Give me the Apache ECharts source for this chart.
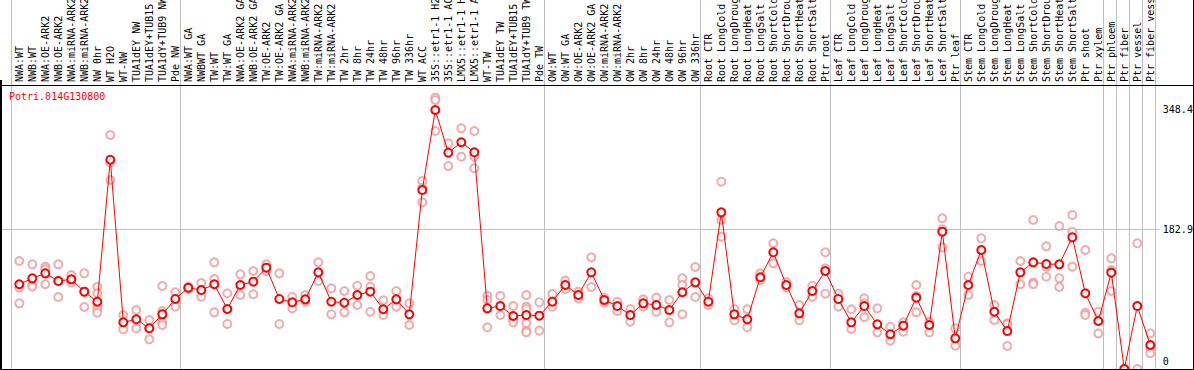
<!DOCTYPE html>
<html>
<head>
<meta charset="utf-8">
<script src="https://cdn.jsdelivr.net/npm/echarts@6/dist/echarts.min.js"></script>
<style>
html,body{margin:0;padding:0;background:#fff;}
#chart{width:1194px;height:370px;}
</style>
</head>
<body>
<div id="chart"></div>
<script>
const geneName = 'Potri.014G130800';

const categories = [
  'NWA:WT','NWB:WT','NWA:OE-ARK2','NWB:OE-ARK2','NWA:miRNA-ARK2','NWB:miRNA-ARK2','NW 0hr','WT H2O','WT-NW',
  'TUA1dEY NW','TUA1dEY+TUB15 NW','TUA1dY+TUB9 NW','Pde NW',
  'NWA:WT GA','NWBWT GA','TW:WT','TW:WT GA','NWA:OE-ARK2 GA','NWB:OE-ARK2 GA','TW:OE-ARK2','TW:OE-ARK2 GA',
  'NWA:miRNA-ARK2 GA','NWB:miRNA-ARK2 GA','TW:miRNA-ARK2','TW:miRNA-ARK2 GA',
  'TW 2hr','TW 8hr','TW 24hr','TW 48hr','TW 96hr','TW 336hr','WT ACC',
  '35S::etr1-1 H2O','35S::etr1-1 ACC','LMX5::etr1-1 H2O','LMX5::etr1-1 ACC',
  'WT-TW','TUA1dEY TW','TUA1dEY+TUB15 TW','TUA1dY+TUB9 TW','Pde TW',
  'OW:WT','OW:WT GA','OW:OE-ARK2','OW:OE-ARK2 GA','OW:miRNA-ARK2','OW:miRNA-ARK2 GA',
  'OW 2hr','OW 8hr','OW 24hr','OW 48hr','OW 96hr','OW 336hr',
  'Root CTR','Root LongCold','Root LongDrought','Root LongHeat','Root LongSalt',
  'Root ShortCold','Root ShortDrought','Root ShortHeat','Root ShortSalt','Ptr root',
  'Leaf CTR','Leaf LongCold','Leaf LongDrought','Leaf LongHeat','Leaf LongSalt',
  'Leaf ShortCold','Leaf ShortDrought','Leaf ShortHeat','Leaf ShortSalt','Ptr leaf',
  'Stem CTR','Stem LongCold','Stem LongDrought','Stem LongHeat','Stem LongSalt',
  'Stem ShortCold','Stem ShortDrought','Stem ShortHeat','Stem ShortSalt','Ptr shoot','Ptr xylem',
  'Ptr phloem','Ptr fiber','Ptr vessel','Ptr fiber vessel'
];

const meanValues = [
  106.5,114.8,121.7,111.0,113.4,96.2,82.3,279.4,53.7,57.9,45.4,64.8,86.1,
  101.7,98.5,106.5,72.2,105.5,110.1,129.5,86.1,81.5,85.6,123.1,82.3,80.9,91.6,96.2,71.8,85.6,64.8,237.3,
  348.4,289.1,303.6,289.7,73.1,76.3,62.5,63.8,62.9,
  82.3,105.5,91.6,123.1,84.7,76.3,63.8,80.1,77.7,70.8,95.4,109.2,
  82.3,206.4,64.8,57.9,116.2,150.9,105.5,66.2,97.2,124.9,
  86.1,53.7,76.3,50.9,37.1,49.0,87.9,50.0,179.5,31.5,
  105.5,154.1,68.4,41.6,123.1,137.0,134.6,134.2,171.7,94.0,55.5,
  122.6,-11.1,76.3,22.2
];

const replicateValues = [
  [138.8,101.7,80.1],[134.2,105.5,103.1],[130.9,127.7,106.5],[134.2,111.0,88.8],[119.4,112.4,109.2],
  [121.7,96.2,75.0],[103.1,94.0,77.7,72.2,67.0],[313.7,275.8,251.2],[63.8,44.0],[70.8,45.4],
  [56.9,45.4,30.1],[104.1,69.4,64.8,53.7,50.0],[95.4,75.4],
  [103.1,99.9],[108.3,89.2],[137.0,113.8,67.6],[94.0,51.4],[120.3,91.6],[124.9,92.6],[134.2,124.9],
  [121.7,51.4],[88.8,73.1],[91.6,82.3],[137.0,111.0],[100.9,64.8],[97.2,67.6],[104.5,77.7],
  [118.0,103.1,68.4],[84.3,63.8],[97.2,75.4],[80.1,50.0],[249.8,240.1,220.3],
  [365.5,362.3,319.2],[302.2,270.7],[323.0,283.6],[319.2,283.6,267.5],
  [90.6,84.7,46.8],[90.6,63.8],[76.3,56.9,53.7],[91.6,75.4,72.2,52.3,41.6,39.8],[81.5,42.1],
  [93.0,75.4],[111.5,99.9],[87.0,96.2],[143.9,102.7],[88.0,81.4],[82.3,69.4],[72.2,54.5],
  [85.6,75.4],[87.9,68.4],[84.7,53.7],[114.8,105.5,64.8],[130.5,88.8],
  [87.0,77.7],[248.9,195.7,172.5],[72.2,56.5],[71.8,46.8],[121.7,112.4],[163.4,135.6],
  [101.7,109.7],[77.7,56.5],[104.5,89.2],[150.9,128.7,93.4],
  [93.4,75.4],[71.8,44.4],[87.0,80.1,60.7],[73.1,39.8],[47.6,28.2],[53.7,40.7],
  [105.5,90.2,67.6],[54.5,39.8],[198.1,182.8,157.8],[45.4,21.2],
  [117.0,91.6],[170.3,138.8],[77.7,56.9],[52.3,51.0,20.8],[138.8,106.5],[195.7,108.7,106.5],
  [159.2,130.9,117.0],[187.4,114.8,102.7],[202.6,179.5,130.9],[154.1,67.0,63.8],[68.4,38.4],
  [142.5,126.3,97.2],[-11.1,-11.1],[163.4,-11.1],[38.4,17.6,10.7]
];

// index of the last category in each group (separators drawn after them)
const groupEnds = [-1, 12, 40, 52, 62, 72, 83, 84, 85, 86, 87];
const yTickValues = [0, 182.9, 348.4];
const yGridValues = [182.9];

const FONT = 'DejaVu Sans Mono';
const replicatePoints = [];
replicateValues.forEach((reps, i) => reps.forEach(v => replicatePoints.push([i, v])));

const chart = echarts.init(document.getElementById('chart'), null, {renderer: 'svg', width: 1194, height: 370});

const option = {
  animation: false,
  backgroundColor: '#ffffff',
  title: {
    text: geneName,
    left: 9, top: 91, padding: 0,
    textStyle: {color: '#ff0000', fontSize: 10, fontWeight: 'normal', fontFamily: FONT, lineHeight: 11}
  },
  grid: {left: 19.3, top: 85, width: 1131, height: 284, containLabel: false, outerBoundsMode: 'none'},
  xAxis: [{
    type: 'category',
    data: categories,
    position: 'top',
    boundaryGap: false,
    axisLine: {show: false},
    axisTick: {show: false},
    splitLine: {show: false},
    axisLabel: {interval: 0, rotate: 90, margin: 3, fontSize: 10, fontFamily: FONT, color: '#000', hideOverlap: false}
  }],
  yAxis: [{
    type: 'value',
    position: 'right',
    min: -11.1, max: 383.1,
    axisLine: {show: false},
    axisTick: {show: false},
    splitLine: {show: false},
    axisLabel: {
      customValues: yTickValues,
      margin: 12.5, fontSize: 10, fontFamily: FONT, color: '#000',
      formatter: v => String(v)
    }
  }],
  series: [
    {
      type: 'scatter',
      data: replicatePoints,
      symbol: 'emptyCircle',
      symbolSize: 8,
      clip: false,
      itemStyle: {color: '#ee9999', borderColor: '#ee9999', borderWidth: 1},
      z: 2, silent: true
    },
    {
      type: 'line',
      data: meanValues,
      symbol: 'emptyCircle',
      symbolSize: 8,
      showAllSymbol: true,
      clip: false,
      lineStyle: {color: '#ff0000', width: 1},
      itemStyle: {color: '#ff0000', borderColor: '#ff0000', borderWidth: 1.4},
      z: 3, silent: true
    }
  ]
};
chart.setOption(option);

// decorations positioned through the library's own scales
const p0 = chart.convertToPixel({seriesIndex: 1}, [0, 0]);
const p1 = chart.convertToPixel({seriesIndex: 1}, [1, 0]);
const step = p1[0] - p0[0];
const crisp = v => Math.round(v) + 0.5;
const graphics = [];
groupEnds.forEach(e => {
  const x = crisp(p0[0] + (e + 0.36) * step);
  graphics.push({type: 'line', z: 0, silent: true, shape: {x1: x, y1: 0, x2: x, y2: 369}, style: {stroke: '#c0c0c0', lineWidth: 1}});
});
yGridValues.forEach(v => {
  const y = crisp(chart.convertToPixel({yAxisIndex: 0}, v));
  graphics.push({type: 'line', z: 0, silent: true, shape: {x1: 0, y1: y, x2: 1160, y2: y}, style: {stroke: '#c0c0c0', lineWidth: 1}});
});
// frame
graphics.push({type: 'line', z: 10, silent: true, shape: {x1: 0, y1: 85.5, x2: 1194, y2: 85.5}, style: {stroke: '#000', lineWidth: 1}});
graphics.push({type: 'line', z: 10, silent: true, shape: {x1: 0, y1: 369.5, x2: 1194, y2: 369.5}, style: {stroke: '#000', lineWidth: 1}});
graphics.push({type: 'line', z: 10, silent: true, shape: {x1: 1, y1: 80, x2: 1, y2: 370}, style: {stroke: '#000', lineWidth: 2}});
graphics.push({type: 'line', z: 10, silent: true, shape: {x1: 1193.5, y1: 0, x2: 1193.5, y2: 370}, style: {stroke: '#000', lineWidth: 1}});
chart.setOption({graphic: {elements: graphics}});
</script>
</body>
</html>
